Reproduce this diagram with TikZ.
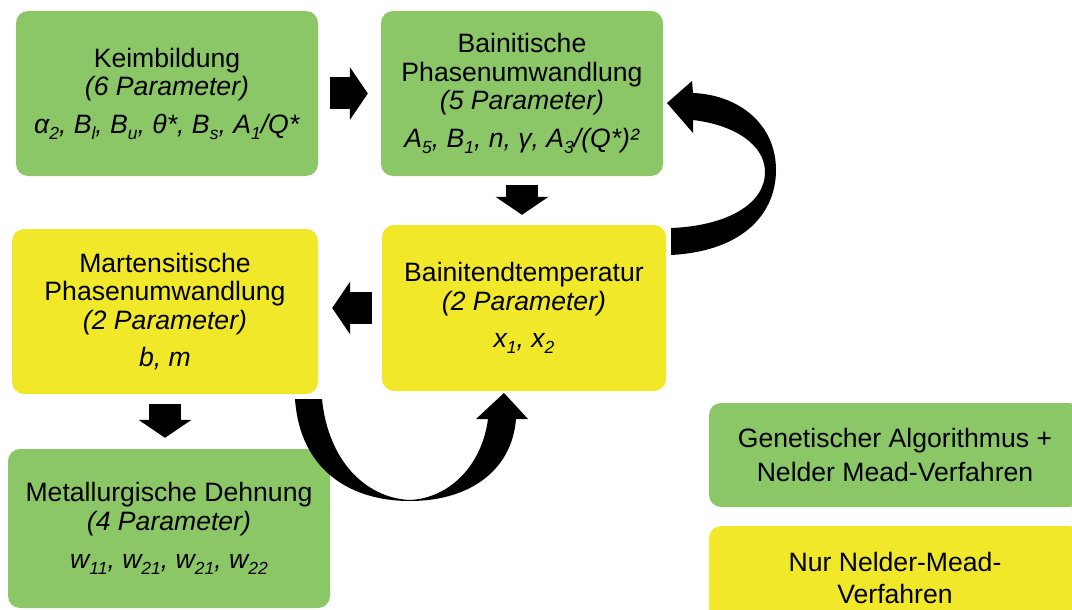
\documentclass[tikz,border=0pt]{standalone}
\usepackage{fontspec}
\setmainfont{Liberation Sans}
\usetikzlibrary{arrows.meta}
\definecolor{stagegreen}{RGB}{139,198,103}
\definecolor{stageyellow}{RGB}{240,232,40}
\newcommand{\subidx}[1]{\raisebox{-6pt}{\fontsize{17.5}{17.5}\selectfont #1}}

\begin{document}
\begin{tikzpicture}[x=1pt,y=-1pt,
  stage/.style={rounded corners=12pt, inner sep=0pt, align=center,
    font=\fontsize{26.6}{28.5}\selectfont},
  greenstage/.style={stage, fill=stagegreen},
  yellowstage/.style={stage, fill=stageyellow},
  blockarrow/.style={line width=32pt, -{Triangle[length=18pt,width=53pt,line width=0pt]}},
  curvedarrow/.style={fill=black}]
\useasboundingbox (0,0) rectangle (1072,610);
% stages
\node[greenstage, minimum width=302pt, minimum height=165pt] (keim) at (167,93.5)
  {Keimbildung\\ \textit{(6 Parameter)}\\[9pt]
   \textit{α\subidx{2}, B\subidx{l}, B\subidx{u}, θ*, B\subidx{s}, A\subidx{1}/Q*}};
\node[greenstage, minimum width=282pt, minimum height=165pt] (bain) at (522,93.5)
  {Bainitische\\ Phasenumwandlung\\ \textit{(5 Parameter)}\\[9pt]
   \textit{A\subidx{5}, B\subidx{1}, n, γ, A\subidx{3}/(Q*)²}};
\node[yellowstage, minimum width=284pt, minimum height=166pt] (endtemp) at (524,308)
  {Bainitendtemperatur\\ \textit{(2 Parameter)}\\[9pt]
   \textit{x\subidx{1}, x\subidx{2}}};
\node[yellowstage, minimum width=306pt, minimum height=165pt] (mart) at (165,311.5)
  {Martensitische\\ Phasenumwandlung\\ \textit{(2 Parameter)}\\[9pt]
   \textit{b, m}};
\node[greenstage, minimum width=322pt, minimum height=159pt] (metal) at (169,528.5)
  {Metallurgische Dehnung\\ \textit{(4 Parameter)}\\[10pt]
   \textit{w\subidx{11}, w\subidx{21}, w\subidx{21}, w\subidx{22}}};
% legend
\node[greenstage, minimum width=372pt, minimum height=104pt] (leggreen) at (895,455)
  {Genetischer Algorithmus +\\[6pt] Nelder Mead-Verfahren};
\node[yellowstage, minimum width=372pt, minimum height=104pt] (legyellow) at (895,578)
  {Nur Nelder-Mead-\\[3pt] Verfahren};
% straight arrows
\draw[blockarrow] ([xshift=12pt]keim.east) -- ([xshift=-13pt]bain.west);
\draw[blockarrow] ([yshift=-9pt]bain.south) -- ([yshift=10pt]bain.south |- endtemp.north);
\draw[blockarrow] ([xshift=-10pt]endtemp.west) -- ([xshift=14pt]endtemp.west -| mart.east);
\draw[blockarrow] ([yshift=-10pt]mart.south) -- ([yshift=11pt]mart.south |- metal.north);
% curved arrows
\fill[curvedarrow] (671,255) .. controls (745,251) and (776,212) .. (776,170)
  .. controls (776,125) and (740,95) .. (693,93) -- (692,81) -- (667,103)
  -- (693,133) -- (693,120) .. controls (735,125) and (765,145) .. (765,172)
  .. controls (765,205) and (725,226) .. (671,228) -- cycle;
\fill[curvedarrow] (295,399) .. controls (300,470) and (350,501) .. (410,501)
  .. controls (470,501) and (512,470) .. (516,419) -- (528,419) -- (504,393)
  -- (476,419) -- (488,419) .. controls (482,465) and (450,498) .. (410,500)
  .. controls (365,498) and (328,460) .. (322,399) -- cycle;
\end{tikzpicture}
\end{document}
